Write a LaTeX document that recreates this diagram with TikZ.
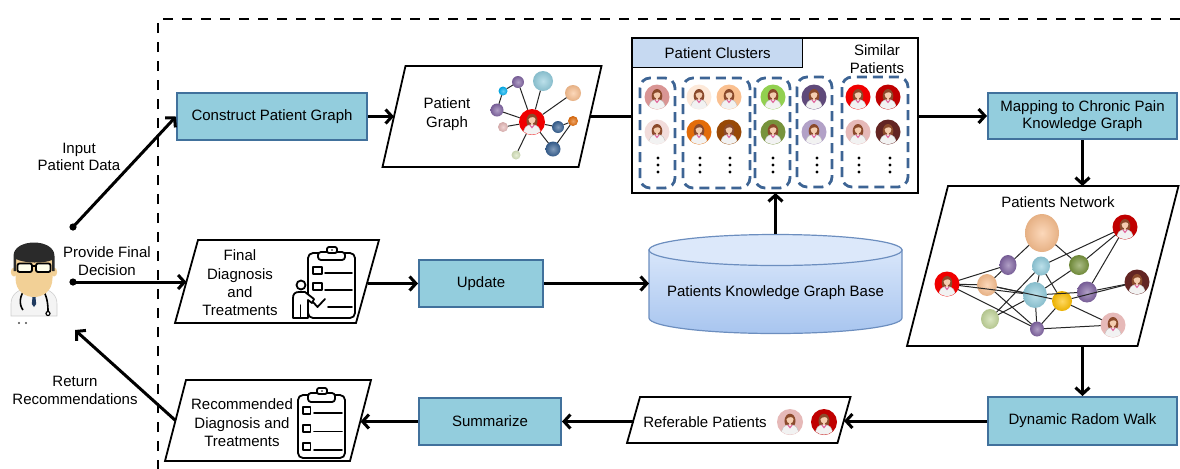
\documentclass[tikz,border=0pt]{standalone}
\usepackage{fontspec}
\setmainfont{Liberation Sans}
\usetikzlibrary{arrows.meta,calc,shapes.geometric}

% box and connector colours
\definecolor{procfill}{HTML}{93CDDD}
\definecolor{procdraw}{HTML}{41719C}
\definecolor{clusdash}{HTML}{3D6494}
\definecolor{headfill}{HTML}{C6D9F1}
\definecolor{cyltop}{HTML}{DCE8FA}
\definecolor{cylhi}{HTML}{D8E6FA}
\definecolor{cyllo}{HTML}{A8C5EF}
\definecolor{cyldraw}{HTML}{6C8EBF}
% figure colours
\definecolor{pskin}{HTML}{F4CDB0}
\definecolor{phair}{HTML}{8B4A2B}
\definecolor{pshirt}{HTML}{F2F2F2}
\definecolor{pshirtd}{HTML}{BDBDBD}
\definecolor{pcollar}{HTML}{E0669B}
\definecolor{dskin}{HTML}{F2D096}
\definecolor{dneck}{HTML}{E2B77C}
\definecolor{dhair}{HTML}{2A2A2A}
\definecolor{dcoat}{HTML}{F4F4F4}
\definecolor{dcoatd}{HTML}{CFCFCF}
\definecolor{dshirt}{HTML}{9FD0EE}
\definecolor{dtie}{HTML}{1F3A5F}
% patient and graph node colours
\definecolor{rose}{HTML}{D99594}
\definecolor{blush}{HTML}{F2DCDB}
\definecolor{cream}{HTML}{FDE9D9}
\definecolor{peach}{HTML}{FAC090}
\definecolor{amber}{HTML}{E36C09}
\definecolor{rust}{HTML}{974806}
\definecolor{lime}{HTML}{92D050}
\definecolor{olivegr}{HTML}{77933C}
\definecolor{plum}{HTML}{5F497A}
\definecolor{lilac}{HTML}{B2A1C7}
\definecolor{scarlet}{HTML}{F00000}
\definecolor{crimson}{HTML}{C00000}
\definecolor{salmon}{HTML}{E6B9B8}
\definecolor{maroonp}{HTML}{632523}
\definecolor{purp}{HTML}{8064A2}
\definecolor{skyb}{HTML}{93CDDD}
\definecolor{cyanb}{HTML}{00B0F0}
\definecolor{navyb}{HTML}{366092}
\definecolor{mint}{HTML}{D7E4BD}
\definecolor{sage}{HTML}{C3D69B}
\definecolor{gold}{HTML}{FFC000}

\tikzset{
  txt/.style={font=\fontsize{7.5pt}{8.8pt}\selectfont, align=center, inner sep=0pt},
  txtp/.style={font=\fontsize{7.5pt}{9.2pt}\selectfont, align=center, inner sep=0pt},
  proc/.style={txt, draw=procdraw, fill=procfill, line width=1pt},
  pbox/.style={inner sep=0pt, outer sep=0pt},
  paraline/.style={draw=black, line width=0.9pt, fill=white},
  conn/.style={line width=1.5pt},
  arr/.style={conn, -{Straight Barb[length=3.2pt,width=7pt]}},
  clus/.style={draw=clusdash, line width=1.4pt, dash pattern=on 5pt off 3pt, rounded corners=5pt},
  icon/.style={draw=black, line width=0.9pt, line join=round, line cap=round},
  ball/.style={ellipse, inner sep=0pt, outer sep=0pt, inner color=#1!62!white, outer color=#1!92!black},
  dotn/.style={circle, inner sep=0pt, outer sep=0pt, minimum size=#1},
  gedge/.style={line width=0.5pt, draw=black!85},
  pics/patient/.style={code={
    \fill[#1] (0,0) circle (12.5);
    \begin{scope}
      \clip (0,0) circle (12.2);
      \fill[phair] (0,-1) ellipse (5.3 and 7);
      \filldraw[fill=pshirt, draw=pshirtd, line width=0.2pt]
        (-8.5,14) .. controls (-8.5,4.5) and (-5,2.6) .. (0,2.6)
        .. controls (5,2.6) and (8.5,4.5) .. (8.5,14) -- cycle;
      \fill[pskin] (-1.3,-1) rectangle (1.3,3.2);
      \fill[pcollar] (-2.8,2.7) -- (0,6.3) -- (2.8,2.7) -- (1.5,2.7) -- (0,4.5) -- (-1.5,2.7) -- cycle;
      \fill[pskin] (0,-2.6) ellipse (3.4 and 4.1);
      \fill[phair] (-4.3,-2.3) .. controls (-4.6,-8.8) and (4.6,-8.8) .. (4.3,-2.3)
        .. controls (3,-5.3) and (-1,-5.9) .. (-4.3,-2.3) -- cycle;
    \end{scope}
  }},
}

% outline of a slanted data box around the named node
\newcommand\drawpara[2]{%
  \path[paraline] ($(#1.north west)+(#2,0)$) -- ($(#1.north east)+(#2,0)$)
    -- ($(#1.south east)-(#2,0)$) -- ($(#1.south west)-(#2,0)$) -- cycle;}

\begin{document}
\begin{tikzpicture}[x=0.5pt, y=-0.5pt]
\useasboundingbox (0,0) rectangle (1180,468);

% system boundary
\draw[line width=1.3pt, dash pattern=on 5pt off 4.5pt] (158,470) -- (158,19) -- (1182,19);

% ---------- process boxes ----------
\node[proc, minimum width=95pt, minimum height=23.5pt] (cpg) at (272,116.5) {Construct Patient Graph};
\node[proc, minimum width=62pt, minimum height=23.5pt] (upd) at (481,283.5) {Update};
\node[proc, minimum width=71pt, minimum height=23.5pt] (summ) at (490,421.5) {Summarize};
\node[proc, minimum width=94.5pt, minimum height=23pt] (map) at (1082.5,116) {Mapping to Chronic Pain\\Knowledge Graph};
\node[proc, minimum width=94.5pt, minimum height=24pt] (drw) at (1082.5,421) {Dynamic Radom Walk};

% ---------- slanted data boxes ----------
\node[pbox, minimum width=98pt, minimum height=50.5pt] (pg) at (492,116.5) {};
\node[pbox, minimum width=90.5pt, minimum height=41.5pt] (fd) at (277,281.5) {};
\node[pbox, minimum width=92.5pt, minimum height=40.5pt] (rd) at (268,420.5) {};
\node[pbox, minimum width=105.25pt, minimum height=23pt] (rp) at (738.75,420) {};
\node[pbox, minimum width=115.25pt, minimum height=80pt] (pn) at (1042.75,266) {};
\drawpara{pg}{11.5}
\drawpara{fd}{11.5}
\drawpara{rd}{10.5}
\drawpara{rp}{6.5}
\drawpara{pn}{20.5}

\node[txtp] (pgt) at (447,114) {Patient\\Graph};
\node[txtp] (fdt) at (240,283) {Final\\Diagnosis\\and\\Treatments};
\node[txtp] (rdt) at (242,423) {Recommended\\Diagnosis and\\Treatments};
\node[txt] (rpt) at (705,422) {Referable Patients};
\node[txt] (pnt) at (1058,202) {Patients Network};

% ---------- knowledge graph base (cylinder) ----------
\node[pbox, minimum width=126.5pt, minimum height=49.5pt] (kgb) at (775.5,283.5) {};
\path[draw=cyldraw, line width=0.6pt, top color=cylhi, bottom color=cyllo]
  (649,250) -- (649,318) arc[start angle=180, end angle=360, x radius=63.25pt, y radius=7.75pt]
  -- (902,250) -- cycle;
\filldraw[fill=cyltop, draw=cyldraw, line width=0.6pt] (775.5,250) ellipse [x radius=63.25pt, y radius=7.75pt];
\node[txt] (kgbt) at (775.5,293) {Patients Knowledge Graph Base};

% ---------- patient clusters panel ----------
\node[txt, draw=black, fill=headfill, line width=0.6pt, minimum width=85pt, minimum height=14.5pt,
      anchor=north west] (pch) at (632,38) {Patient Clusters};
\node[pbox, draw=black, line width=1.3pt, minimum width=143pt, minimum height=77.5pt] (pc) at (775,115.5) {};
\node[txt] (simt) at (877,59) {Similar\\Patients};

\draw[clus] (640,78) rectangle (675,188);
\draw[clus] (683,78) rectangle (750,188);
\draw[clus] (755,78) rectangle (790,188);
\draw[clus] (797,77) rectangle (832,187);
\draw[clus] (842,77) rectangle (908,187);

\pic at (657,97) {patient=rose};
\pic at (657,132) {patient=blush};
\pic at (699,97) {patient=cream};
\pic at (729,97) {patient=peach};
\pic at (699,132) {patient=amber};
\pic at (729,132) {patient=rust};
\pic at (773,97) {patient=lime};
\pic at (773,132) {patient=olivegr};
\pic at (814,97) {patient=plum};
\pic at (814,132) {patient=lilac};
\pic at (858,97) {patient=scarlet};
\pic at (888,97) {patient=crimson};
\pic at (858,132) {patient=salmon};
\pic at (888,132) {patient=maroonp};

\foreach \cx in {658,700,730,773,817,859,890}
  \foreach \cy in {158,165,172}
    \fill (\cx,\cy) circle (1.7);

% ---------- patient graph ----------
\node[dotn=13pt] (g0) at (532,122) {};
\node[ball=skyb, minimum size=10pt] (g1) at (543,81) {};
\node[ball=purp, minimum size=6pt] (g2) at (518,82) {};
\node[ball=cyanb, minimum size=4.5pt] (g3) at (503,91) {};
\node[ball=purp, minimum size=6.5pt] (g4) at (497,110) {};
\node[ball=peach, minimum size=8pt] (g5) at (573,93) {};
\node[ball=salmon, minimum size=5pt] (g6) at (503,127) {};
\node[ball=navyb, minimum size=6pt] (g7) at (558,127) {};
\node[ball=amber, minimum size=5pt] (g8) at (573,121) {};
\node[ball=navyb, minimum size=7.5pt] (g9) at (553,149) {};
\node[ball=mint, minimum size=4.5pt] (g10) at (516,155) {};
\foreach \a/\b in {g0/g1,g0/g2,g0/g4,g0/g5,g0/g6,g0/g7,g0/g9,g0/g10,g3/g2,g3/g4,g7/g8,g8/g9}
  \draw[gedge] (\a) -- (\b);
\pic[scale=1.04] at (g0) {patient=scarlet};

% ---------- patients network ----------
\node[ball=peach, minimum width=17pt, minimum height=19pt] (n1) at (1042,233) {};
\node[ball=purp, minimum width=8.5pt, minimum height=10pt] (n2) at (1008,265) {};
\node[ball=skyb, minimum width=9pt, minimum height=9.5pt] (n3) at (1041,266) {};
\node[ball=olivegr, minimum width=10pt, minimum height=10pt] (n4) at (1079,265) {};
\node[dotn=12pt] (n5) at (947,284) {};
\node[ball=peach, minimum width=10pt, minimum height=11pt] (n6) at (987,285) {};
\node[ball=skyb, minimum width=12pt, minimum height=13pt] (n7) at (1035,295) {};
\node[ball=gold, minimum width=10pt, minimum height=10pt] (n8) at (1062,301) {};
\node[ball=purp, minimum width=10pt, minimum height=10.5pt] (n9) at (1087,292) {};
\node[ball=sage, minimum width=9pt, minimum height=10pt] (n10) at (990,319) {};
\node[ball=purp, minimum width=7pt, minimum height=7.5pt] (n11) at (1037,329) {};
\node[dotn=12pt] (n12) at (1125,227) {};
\node[dotn=12pt] (n13) at (1137,282) {};
\node[dotn=12pt] (n14) at (1113,325) {};
\foreach \a/\b in {n5/n2,n5/n6,n5/n7,n5/n11,n1/n2,n1/n4,n3/n12,n3/n7,n3/n8,n2/n6,
                   n6/n7,n6/n8,n6/n11,n10/n7,n10/n3,n11/n7,n11/n8,n11/n14,n8/n14,
                   n9/n13,n9/n12,n4/n12,n7/n4,n7/n9,n8/n13}
  \draw[gedge] (\a) -- (\b);
\pic at (n5) {patient=scarlet};
\pic at (n12) {patient=crimson};
\pic at (n13) {patient=maroonp};
\pic at (n14) {patient=salmon};

% ---------- referable patients ----------
\node[dotn=13pt] (rp1) at (790,422) {};
\node[dotn=13pt] (rp2) at (824,422) {};
\pic[scale=1.04] at (rp1) {patient=salmon};
\pic[scale=1.04] at (rp2) {patient=crimson};

% ---------- clipboard with person ----------
\draw[icon, rounded corners=2.5pt] (308,253) rectangle (355,318);
\filldraw[icon, fill=white, rounded corners=1.5pt] (318,252) rectangle (345,260);
\filldraw[icon, fill=white, rounded corners=1pt] (327,247) rectangle (337,253);
\fill (332,250) circle (0.8);
\draw[icon, line width=0.8pt] (313,267) rectangle (322,274);
\draw[icon] (325,273) -- (352,273);
\draw[icon, line width=0.8pt] (313,283) rectangle (322,290);
\draw[icon] (325,290) -- (352,290);
\draw[icon] (313,302) -- (317.5,307) -- (325,299);
\draw[icon] (328,307) -- (352,307);
\filldraw[icon, fill=white] (301,285) circle (4.5);
\filldraw[icon, fill=white] (293,318) -- (293,298) .. controls (293,294) and (295,292) .. (299,292)
  -- (305,292) -- (314,299) -- (312,303) -- (308,300) -- (308,318) -- cycle;
\draw[icon, line width=0.7pt] (300.5,305) -- (300.5,318);

% ---------- clipboard with list ----------
\draw[icon, rounded corners=2.5pt] (298,395) rectangle (345,458);
\filldraw[icon, fill=white, rounded corners=1.5pt] (308,393) rectangle (335,402);
\filldraw[icon, fill=white, rounded corners=1pt] (317,388) rectangle (327,394);
\fill (322,391) circle (0.8);
\draw[icon, line width=0.8pt] (303,407) rectangle (310.5,414);
\draw[icon] (314,413) -- (342,413);
\draw[icon, line width=0.8pt] (303,425) rectangle (310.5,432);
\draw[icon] (314,431.5) -- (342,431.5);
\draw[icon, line width=0.8pt] (303,443) rectangle (310.5,450);
\draw[icon] (314,450) -- (342,450);

% ---------- physician ----------
\coordinate (doc) at (34,282);
\filldraw[fill=dcoat, draw=dcoatd, line width=0.3pt]
  (11,316) -- (11,304) .. controls (11,295) and (17,290) .. (27,288) -- (41,288)
  .. controls (51,290) and (57,295) .. (57,304) -- (57,316) -- cycle;
\fill[dneck] (30,283) rectangle (38,292);
\fill[dshirt] (28,288) -- (34,300) -- (40,288) -- cycle;
\fill[dtie] (33,292) -- (35,292) -- (36.2,304) -- (34,307) -- (31.8,304) -- cycle;
\draw[line width=0.8pt] (26,289) .. controls (19,295) and (19,305) .. (23,310);
\draw[line width=0.8pt] (42,289) .. controls (47,295) and (48,304) .. (48,311);
\filldraw[fill=white, draw=black, line width=0.6pt] (48,313.5) circle (2);
\fill[dskin] (14,272) ellipse (3.2 and 4.5);
\fill[dskin] (54,272) ellipse (3.2 and 4.5);
\fill[dskin] (15.5,257) -- (15.5,278) .. controls (15.5,292) and (26,297) .. (34,297)
  .. controls (42,297) and (52.5,292) .. (52.5,278) -- (52.5,257) -- cycle;
\fill[dhair] (13.5,271) -- (13.5,256) .. controls (13.5,238) and (54.5,238) .. (54.5,256) -- (54.5,271)
  -- (52,271) -- (52,260) .. controls (45,263.5) and (24,263.5) .. (16,259) -- (16,271) -- cycle;
\filldraw[fill=white!92!yellow, draw=black, line width=0.9pt, rounded corners=1pt] (17.5,263.5) rectangle (32,272);
\filldraw[fill=white!92!yellow, draw=black, line width=0.9pt, rounded corners=1pt] (36,263.5) rectangle (50.5,272);
\draw[line width=0.9pt] (32,266) -- (36,266);
\fill[black!70] (19,323) circle (1.2);
\fill[black!70] (26,323) circle (1.2);

% ---------- connectors ----------
\coordinate (inA) at (73,227);
\coordinate (inB) at (73,282);
\coordinate (rtip) at (75,330);
\draw[arr] (inA) -- (cpg.west);
\draw[arr] (inB) -- (inB -| fd.west);
\draw[arr] (rd.west) -- (rtip);
\fill (inA) circle (3.6);
\fill (inB) circle (3.6);

\draw[arr] (cpg.east) -- (cpg.east -| pg.west);
\draw[conn] (pg.east) -- (pg.east -| pc.west);
\draw[arr] (pc.east |- map.west) -- (map.west);
\draw[arr] (map.south) -- (map.south |- pn.north);
\draw[arr] (pn.south -| drw.north) -- (drw.north);
\draw[arr] (drw.west) -- (drw.west -| rp.east);
\draw[arr] (rp.west |- summ.east) -- (summ.east);
\draw[arr] (summ.west) -- (summ.west -| rd.east);
\draw[arr] (fd.east |- upd.west) -- (upd.west);
\draw[arr] (upd.east) -- (upd.east -| kgb.west);
\draw[arr] (kgb.north) -- (kgb.north |- pc.south);

% ---------- connector labels ----------
\node[txt] (lin) at (79,157) {Input\\Patient Data};
\node[txt] (lprov) at (107,261) {Provide Final\\Decision};
\node[txt] (lret) at (75,390.5) {Return\\Recommendations};

\end{tikzpicture}
\end{document}
